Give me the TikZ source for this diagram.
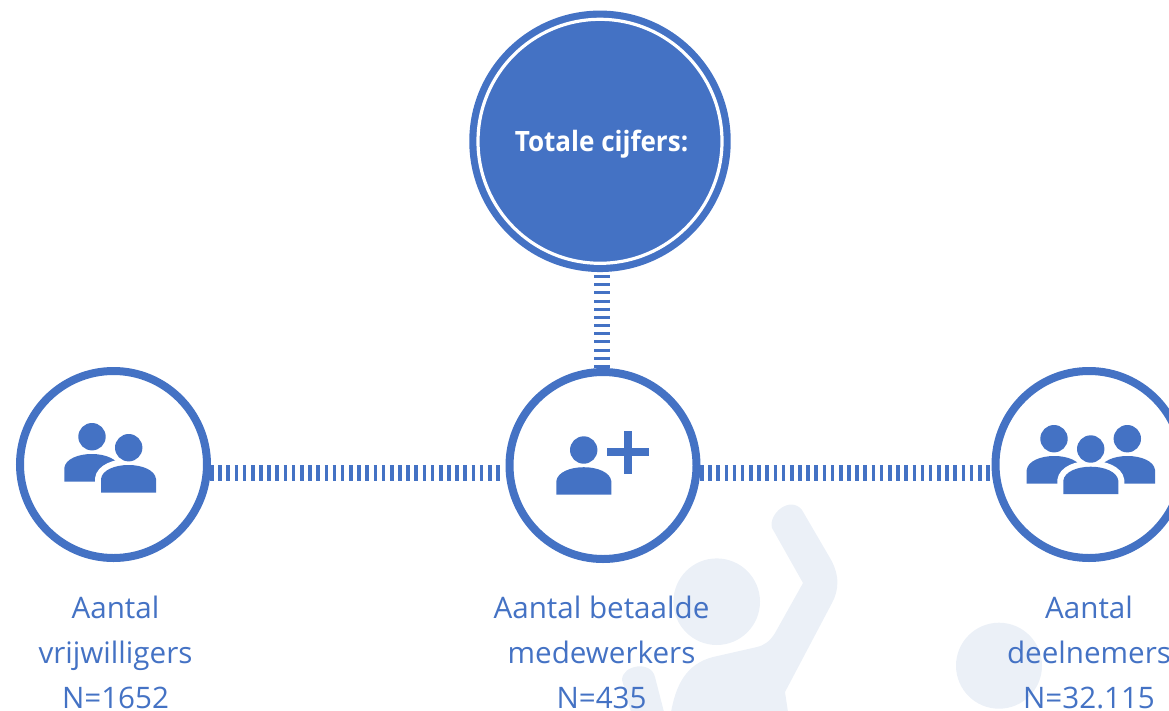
\documentclass[tikz,border=0pt]{standalone}
\usepackage{fontspec}
\setmainfont{Open Sans}
\definecolor{brand}{HTML}{4472C4}
\definecolor{ghost}{HTML}{EBF0F7}
\tikzset{
  x=0.75pt,y=-0.75pt,
  ring/.style={circle,draw=brand,line width=6pt,fill=white,minimum size=140.25pt,inner sep=0pt,outer sep=0pt},
  hub/.style={circle,draw=brand,line width=5.6pt,fill=brand,minimum size=190.5pt,inner sep=0pt,outer sep=0pt},
  hubline/.style={draw=white,line width=2.4pt},
  hubtext/.style={text=white,anchor=base,inner sep=0pt,font=\fontsize{21pt}{23pt}\bfseries\addfontfeature{FakeStretch=0.93}},
  caption/.style={text=brand,align=center,anchor=base,inner sep=0pt,font=\fontsize{22.2pt}{33.75pt}\selectfont},
  htick/.style={draw=brand,line width=12pt,dash pattern=on 2.7pt off 3.43pt},
  vtick/.style={draw=brand,line width=12pt,dash pattern=on 2.25pt off 3.88pt,dash phase=1.1pt},
  icon/.style={fill=brand},
  halo/.style={draw=white,line width=9pt,fill=white},
}
\newcommand{\bodyshape}[2]{(#1,#2+27.5) -- (#1,#2+14) .. controls (#1+1,#2+5) and (#1+14,#2) .. (#1+27.5,#2) .. controls (#1+41,#2) and (#1+54,#2+5) .. (#1+55,#2+14) -- (#1+55,#2+27.5) -- cycle}
\begin{document}
\begin{tikzpicture}
\useasboundingbox (0,0) rectangle (1169,710);
% watermark figures
\begin{scope}
\clip (0,0) rectangle (1169,710);
\fill[ghost] (716.7,601.7) circle[radius=43.3];
\fill[ghost] (999,665.7) circle[radius=43];
\fill[ghost] (772,528) .. controls (768,514) and (790,495) .. (802,510)
  -- (830,558) .. controls (840,575) and (839,590) .. (832,603)
  -- (785,692) -- (788,712) -- (671,712)
  .. controls (676,685) and (686,664) .. (713,657)
  -- (757,647) .. controls (765,645) and (770,641) .. (775,633)
  -- (803,583) -- cycle;
\fill[ghost] (622,680) .. controls (622,665) and (651,660) .. (655,677)
  -- (664,712) -- (631,712) -- cycle;
\end{scope}
% circles
\node[hub] (top) at (600,141.3) {};
\node[ring] (left) at (113.5,464.5) {};
\node[ring] (mid) at (603,465.5) {};
\node[ring] (right) at (1089,464.5) {};
\draw[hubline] (top.center) circle[radius=122];
\node[hubtext] (toptext) at (601.5,151) {Totale cijfers:};
% connector guides
\coordinate (rowline) at (0,472.5);
\coordinate (colline) at (602,0);
% connectors
\draw[htick,dash phase=3.8pt,shorten >=6pt] (left.east |- rowline) -- (mid.west |- rowline);
\draw[htick,dash phase=3.5pt,shorten >=4pt] (mid.east |- rowline) -- (right.west |- rowline);
\draw[vtick] (top.south -| colline) -- (mid.north -| colline);
% left icon
\fill[icon] (92,436.7) circle[radius=13.7];
\fill[icon] \bodyshape{64.3}{454};
\filldraw[halo] \bodyshape{101}{465};
\fill[icon] (128.7,447.7) circle[radius=13.7];
\fill[icon] \bodyshape{101}{465};
% mid icon
\fill[icon] (583.7,450) circle[radius=13.7];
\fill[icon] \bodyshape{556.3}{467.2};
\fill[icon] (624,431) rectangle (632,473.7);
\fill[icon] (607.3,448) rectangle (649,456);
% right icon
\fill[icon] (1054,438.7) circle[radius=13.7];
\fill[icon] (1127.3,438.7) circle[radius=13.7];
\fill[icon] \bodyshape{1026.7}{456};
\fill[icon] \bodyshape{1100}{456};
\filldraw[halo] \bodyshape{1063.3}{466.7};
\fill[icon] (1090.7,449) circle[radius=13.7];
\fill[icon] \bodyshape{1063.3}{466.7};
% captions
\node[caption] (c1) at (115.5,708) {Aantal\\vrijwilligers\\N=1652};
\node[caption] (c2) at (601.5,708) {Aantal betaalde\\medewerkers\\N=435};
\node[caption] (c3) at (1089,708) {Aantal\\deelnemers\\N=32.115};
\end{tikzpicture}
\end{document}
